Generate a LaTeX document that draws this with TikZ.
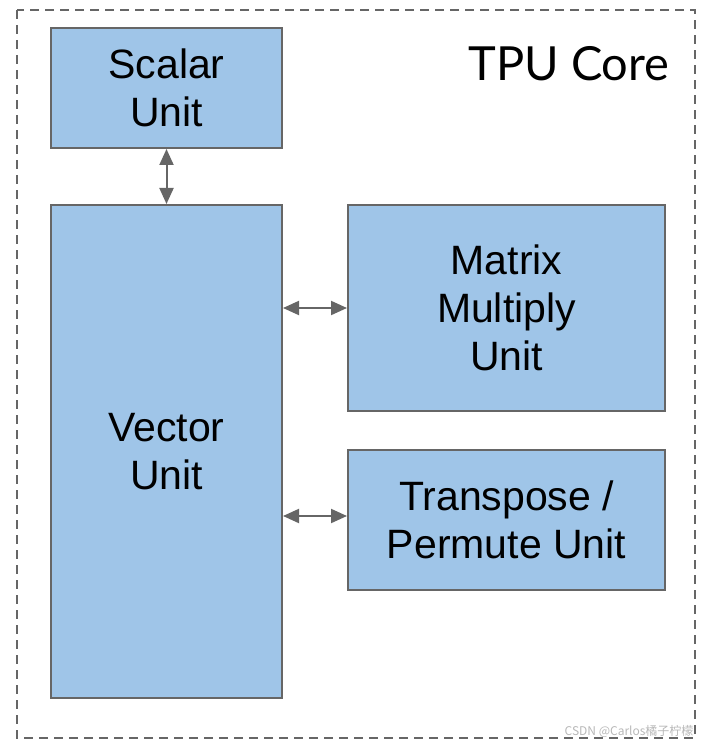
\documentclass[tikz,border=0pt]{standalone}
\usepackage{fontspec}
\setmainfont{Liberation Sans}
\newfontfamily\corefont{Lato}
\newfontfamily\cjkfont{Noto Sans CJK SC}
\usetikzlibrary{arrows.meta}
\definecolor{unitblue}{HTML}{9FC5E8}
\definecolor{edgegray}{HTML}{666666}
\begin{document}
\begin{tikzpicture}
        [x=1pt,y=-1pt,
         unit/.style={draw=edgegray, line width=2pt, fill=unitblue, align=center,
                      inner sep=0pt, font=\fontsize{41}{48}\selectfont},
         link/.style={<->, edgegray, line width=2pt,
                      >={Triangle[length=16pt,width=14pt]}}]
            \useasboundingbox (0,0) rectangle (710,743);
            %cornice tratteggiata
            \draw[edgegray, line width=2pt, dash pattern=on 9pt off 6pt] (17,10) rectangle (695,738);
            \node (core) at (673,64)[anchor=east, font=\corefont\fontsize{47}{50}\selectfont]{TPU Core};
            %unita
            \node (scalar) at (166.5,88)[unit, minimum width=231pt, minimum height=120pt]{Scalar\\Unit};
            \node (vector) at (166.5,451.5)[unit, minimum width=231pt, minimum height=493pt]{Vector\\Unit};
            \node (matrix) at (506.5,308)[unit, minimum width=317pt, minimum height=206pt]{Matrix\\Multiply\\Unit};
            \node (transp) at (506.5,520)[unit, minimum width=317pt, minimum height=140pt]{Transpose /\\Permute Unit};
            %collegamenti
            \draw[link] (scalar) -- (vector);
            \draw[link] (vector.east |- matrix) -- (matrix.west);
            \draw[link] ([yshift=4pt]vector.east |- transp.west) -- ([yshift=4pt]transp.west);
            %firma
            \node (mark) at (697,731)[anchor=east, text=black!28, font=\cjkfont\fontsize{12}{13}\selectfont]{CSDN @Carlos橘子柠檬};
\end{tikzpicture}
\end{document}
